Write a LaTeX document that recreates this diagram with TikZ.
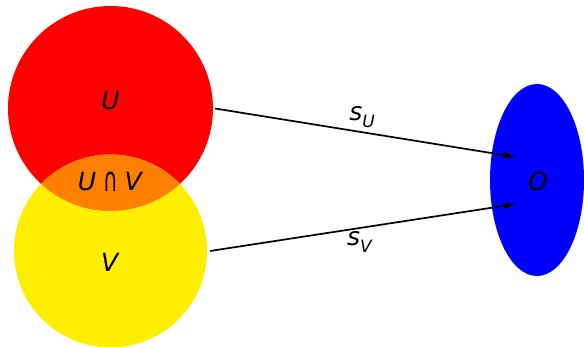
\documentclass[tikz,border=0pt]{standalone}
\usepackage{fontspec}
\setmainfont{DejaVu Sans}
\newfontfamily\symf{DejaVu Sans}
\usetikzlibrary{arrows.meta,shapes.geometric}
\definecolor{setred}{HTML}{FF0000}
\definecolor{setyellow}{HTML}{FFEE00}
\definecolor{setorange}{HTML}{FF8000}
\definecolor{setblue}{HTML}{0000FF}
\newcommand{\mv}[1]{\textit{#1}}
\newcommand{\capsym}{\raisebox{-0.05em}{\scalebox{0.8}[1.35]{\symf ∩}}}
\newcommand{\subv}[2]{\textit{#1}\raisebox{-0.28em}{\fontsize{17}{17}\selectfont\textit{#2}}}
\tikzset{
  lbl/.style={font=\fontsize{25}{25}\selectfont, inner sep=0pt},
  mapto/.style={line width=1.7pt, -{Stealth[length=13pt,width=6pt,inset=2pt]}},
}
\begin{document}
\begin{tikzpicture}[x=1pt,y=-1pt]
\useasboundingbox (0,0) rectangle (584,347);
% the two open sets and their overlap
\node[circle, fill=setred, minimum size=205pt, inner sep=0pt, outer sep=2pt] (U) at (110.5,108.5) {};
\node[circle, fill=setyellow, minimum size=193pt, inner sep=0pt, outer sep=3pt] (V) at (110.5,251) {};
\begin{scope}
  \clip (110.5,108.5) circle[radius=102.5];
  \fill[setorange] (110.5,251) circle[radius=96.5];
\end{scope}
% the target object
\node[ellipse, fill=setblue, minimum width=94pt, minimum height=192pt, inner sep=0pt] (O) at (537,180) {};
% labels
\node[lbl] at (110.5,101) {\mv{U}};
\node[lbl] at (110.5,182) {\mv{U}\kern 7pt\capsym\kern 7pt\mv{V}};
\node[lbl] at (110.5,262) {\mv{V}};
\node[lbl] at (538,181) {\mv{O}};
% maps into O
\coordinate (tu) at (516,157);
\coordinate (tv) at (516,204);
\draw[mapto] (U.east) -- (tu);
\draw[mapto] (V.east) -- (tv);
\node[lbl] at (362,117) {\subv{s}{U}};
\node[lbl] at (360,242) {\subv{s}{V}};
\end{tikzpicture}
\end{document}
